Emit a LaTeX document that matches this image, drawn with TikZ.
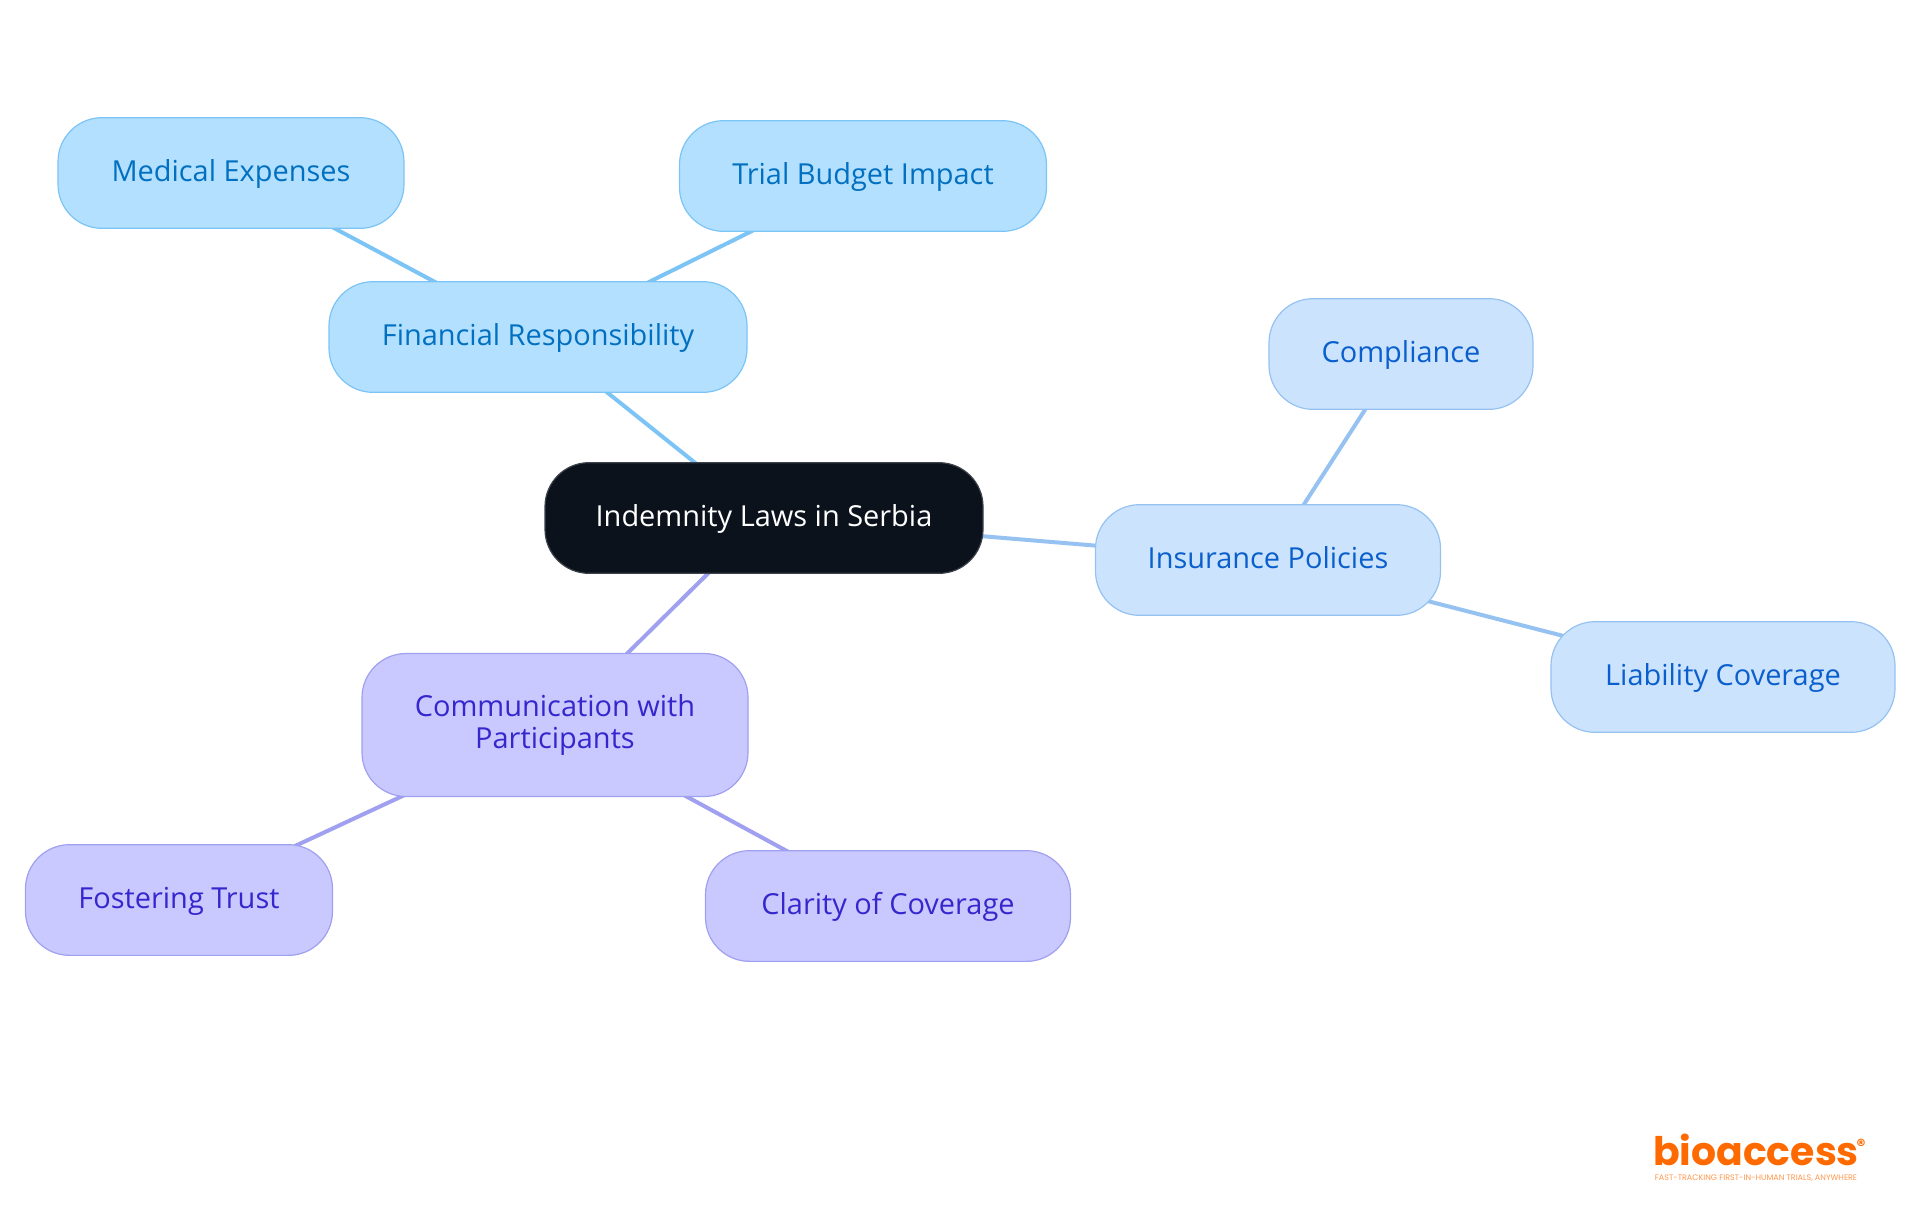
\documentclass[tikz,border=0pt]{standalone}
\usepackage{fontspec}
\usepackage{tikz}
\usetikzlibrary{backgrounds}
\setmainfont{Open Sans}
\newfontfamily\logofont{Poppins}

\definecolor{rootfill}{RGB}{11,18,27}
\definecolor{rootline}{RGB}{60,66,74}
\definecolor{skyfill}{RGB}{179,224,255}
\definecolor{skyline}{RGB}{124,196,245}
\definecolor{skytext}{RGB}{2,112,192}
\definecolor{bluefill}{RGB}{204,227,253}
\definecolor{blueline}{RGB}{150,194,242}
\definecolor{bluetext}{RGB}{10,95,204}
\definecolor{violetfill}{RGB}{201,201,255}
\definecolor{violetline}{RGB}{160,160,240}
\definecolor{violettext}{RGB}{53,39,204}
\definecolor{logoorange}{RGB}{255,106,0}

\tikzset{
    mapnode/.style={rectangle,rounded corners=33pt,line width=0.9pt,align=center,inner sep=0pt,
        minimum height=83pt,text height=19pt,text depth=6.5pt,font=\fontsize{21.7}{24}\selectfont},
    rootnode/.style={mapnode,draw=rootline,fill=rootfill,text=white},
    skynode/.style={mapnode,draw=skyline,fill=skyfill,text=skytext},
    bluenode/.style={mapnode,draw=blueline,fill=bluefill,text=bluetext},
    violetnode/.style={mapnode,draw=violetline,fill=violetfill,text=violettext},
    skylink/.style={draw=skyline,line width=3pt},
    bluelink/.style={draw=blueline,line width=3pt},
    violetlink/.style={draw=violetline,line width=3pt},
}

\begin{document}
\begin{tikzpicture}[x=0.75pt,y=0.75pt,yscale=-1,xscale=1]
    \useasboundingbox (0,0) rectangle (1920,1215);

    % Root
    \node [rootnode,minimum width=328.5pt] (indemnity) at (764,518) {Indemnity Laws in Serbia};

    % Financial branch
    \node [skynode,minimum width=313.5pt] (financial) at (538,337) {Financial Responsibility};
    \node [skynode,minimum width=259.5pt] (medical) at (231,173) {Medical Expenses};
    \node [skynode,minimum width=275.25pt] (budget) at (863,176) {Trial Budget Impact};

    % Insurance branch
    \node [bluenode,minimum width=258.75pt] (insurance) at (1268,560) {Insurance Policies};
    \node [bluenode,minimum width=198pt] (compliance) at (1401,354) {Compliance};
    \node [bluenode,minimum width=258pt] (liability) at (1723,677) {Liability Coverage};

    % Communication branch
    \node [violetnode,minimum width=289.5pt,minimum height=107.25pt,text height=,text depth=] (communication) at (555,725) {Communication with\\Participants};
    \node [violetnode,minimum width=230.25pt] (trust) at (179,900) {Fostering Trust};
    \node [violetnode,minimum width=273.75pt] (clarity) at (888,906) {Clarity of Coverage};

    % Connectors
    \begin{scope}[on background layer]
        \draw [skylink] (indemnity.center) -- (financial.center);
        \draw [skylink] (financial.center) -- (medical.center);
        \draw [skylink] (financial.center) -- (budget.center);
        \draw [bluelink] (indemnity.center) -- (insurance.center);
        \draw [bluelink] (insurance.center) -- (compliance.center);
        \draw [bluelink] (insurance.center) -- (liability.center);
        \draw [violetlink] (indemnity.center) -- (communication.center);
        \draw [violetlink] (communication.center) -- (trust.center);
        \draw [violetlink] (communication.center) -- (clarity.center);
    \end{scope}

    % Logo
    \node [inner sep=0pt,text=logoorange,font=\logofont\bfseries\fontsize{29.5}{30}\selectfont] (logo) at (1756,1150) {bioaccess};
    \node [inner sep=0pt,text=logoorange,font=\logofont\bfseries\fontsize{13}{13}\selectfont] (logomark) at (1861,1145) {®};
    \node [inner sep=0pt,text=logoorange!70,font=\logofont\fontsize{6}{6}\selectfont] (tagline) at (1756,1178) {FAST-TRACKING FIRST-IN-HUMAN TRIALS, ANYWHERE};
\end{tikzpicture}
\end{document}
